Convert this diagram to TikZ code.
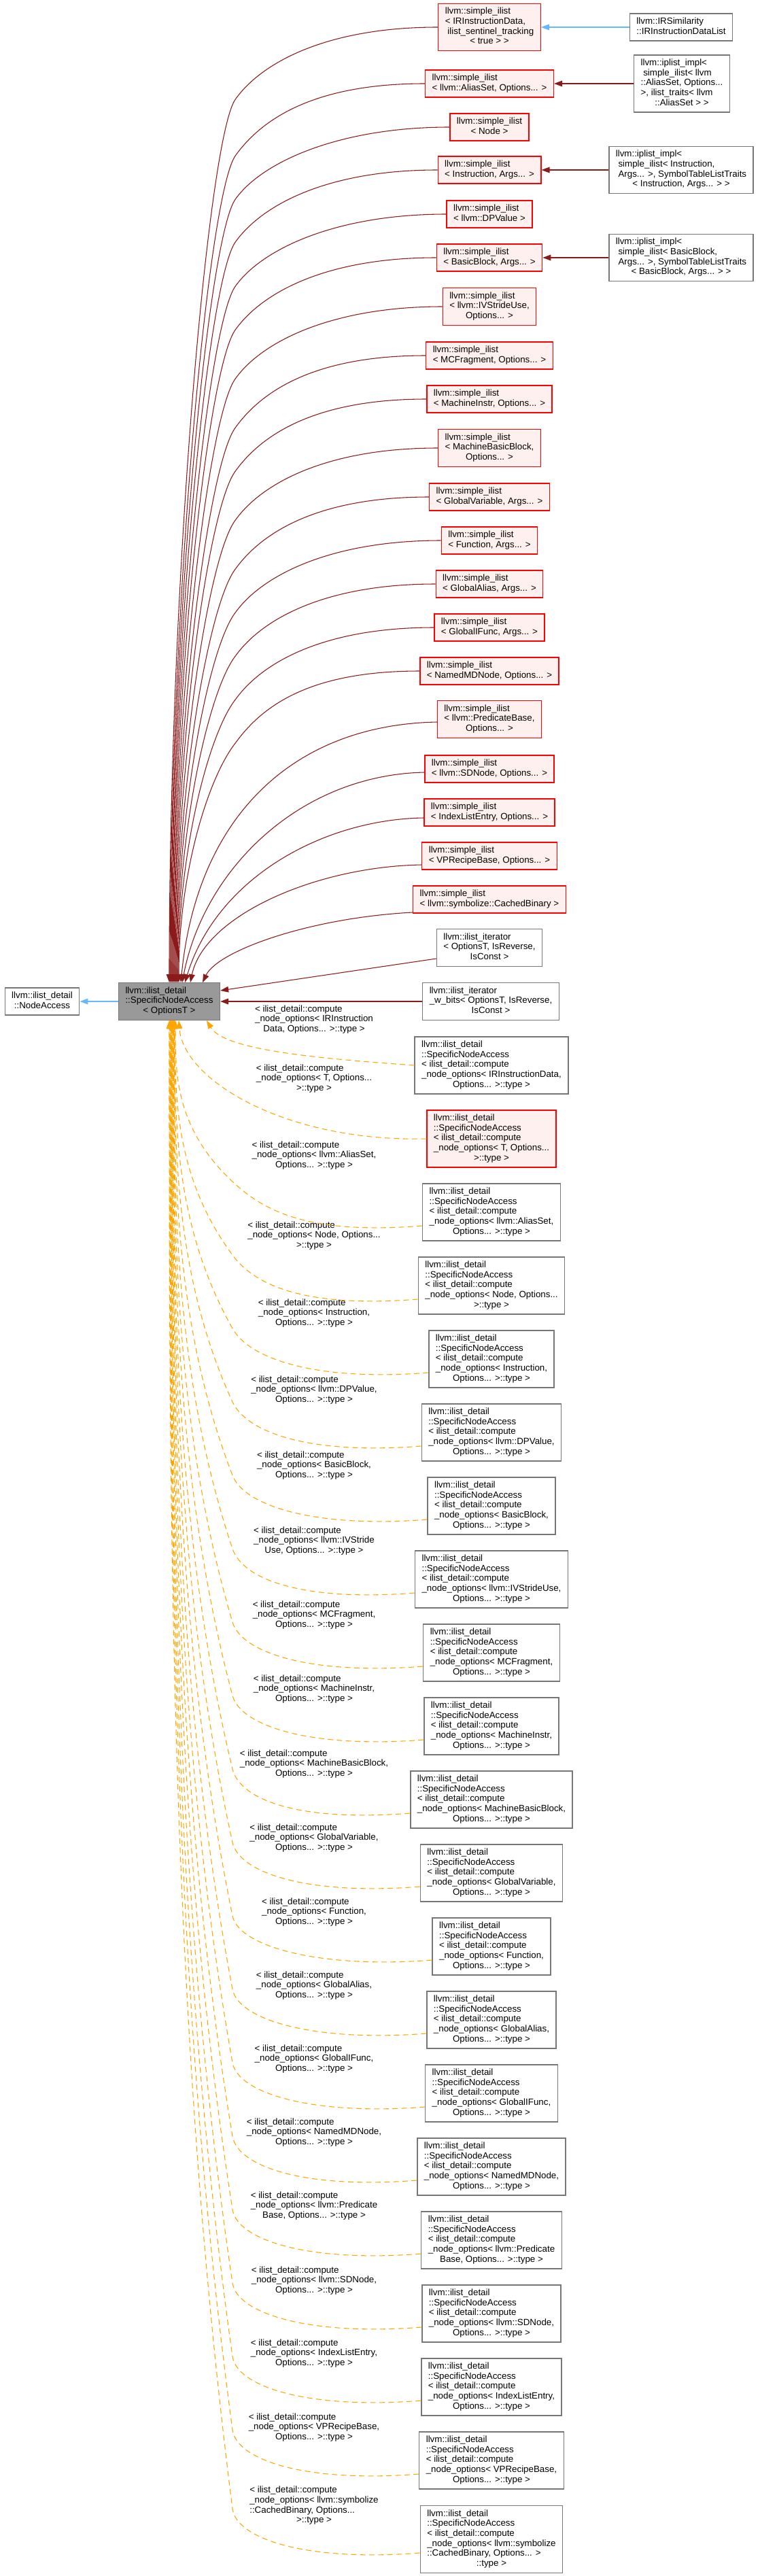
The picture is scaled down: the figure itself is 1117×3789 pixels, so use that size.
\documentclass[tikz,border=0pt]{standalone}
\usepackage{fontspec}
\setmainfont{Liberation Sans}
\usetikzlibrary{arrows.meta,calc}
\definecolor{edgered}{HTML}{8B1A1A}
\definecolor{edgeblue}{HTML}{63B8FF}
\definecolor{edgeorange}{HTML}{FFA500}
\definecolor{nodered}{HTML}{FF0000}
\definecolor{nodepink}{HTML}{FFF0F0}
\definecolor{nodegray}{HTML}{999999}
\definecolor{bordergray}{HTML}{777777}
\newcommand{\dxl}[2]{\begin{tabular}{@{}l@{}}#1\\\multicolumn{1}{@{}c@{}}{#2}\end{tabular}}
\newcommand{\sna}[2]{\dxl{llvm::ilist\_detail\\::SpecificNodeAccess\\< ilist\_detail::compute\\#1}{#2}}
\newcommand{\lab}[2]{\dxl{< ilist\_detail::compute\\#1}{#2}}
\newcommand{\topedge}[4]{\draw[redge] (#1.west) .. controls +(-160,0) and +(40,-55) .. (347,#2) .. controls +(-40,50) and +(0,-#3) .. ($(main.north)+(#4,0)$);}
\newcommand{\botedge}[6]{\draw[oedge] ($(#1.west)+(0,20)$) .. controls +(-165,13) and +(#2,45) .. (342,#3) .. controls +(#4,-#5) and +(0,#5) .. ($(main.south)+(#6,0)$);}
\tikzset{
  basebox/.style={rectangle, inner xsep=7.5pt, inner ysep=4pt, line width=1pt, font=\fontsize{10}{11}\selectfont},
  rednode/.style={basebox, draw=nodered, fill=nodepink},
  plainnode/.style={basebox, draw=bordergray, fill=white},
  mainnode/.style={basebox, draw=bordergray, fill=nodegray},
  lbl/.style={inner sep=0pt, font=\fontsize{10}{11}\selectfont},
  redge/.style={draw=edgered, line width=0.8pt, -{Triangle[length=9pt,width=6.5pt]}},
  bedge/.style={draw=edgeblue, line width=0.8pt, -{Triangle[length=9pt,width=6.5pt]}},
  oedge/.style={draw=edgeorange, line width=0.8pt, dash pattern=on 6pt off 4pt, -{Triangle[length=9pt,width=6.5pt]}}
}
\begin{document}
\begin{tikzpicture}[x=0.75pt,y=-0.75pt]
\fill[white] (0,0) rectangle (1117,3789);
\useasboundingbox (0,0) rectangle (1117,3789);
% main and base
\node[mainnode] (main) at (249,1473) {\dxl{llvm::ilist\_detail\\::SpecificNodeAccess}{< OptionsT >}};
\node[plainnode] (na) at (62,1473) {\dxl{llvm::ilist\_detail}{::NodeAccess}};
% simple_ilist nodes
\node[rednode] (r1) at (720,40) {\dxl{llvm::simple\_ilist\\< IRInstructionData,\\\ ilist\_sentinel\_tracking}{< true > >}};
\node[rednode] (r2) at (720,123) {\dxl{llvm::simple\_ilist}{< llvm::AliasSet, Options... >}};
\node[rednode] (r3) at (720,187) {\dxl{llvm::simple\_ilist}{< Node >}};
\node[rednode] (r4) at (720,250) {\dxl{llvm::simple\_ilist}{< Instruction, Args... >}};
\node[rednode] (r5) at (720,315) {\dxl{llvm::simple\_ilist}{< llvm::DPValue >}};
\node[rednode] (r6) at (720,379) {\dxl{llvm::simple\_ilist}{< BasicBlock, Args... >}};
\node[rednode] (r7) at (720,451) {\dxl{llvm::simple\_ilist\\< llvm::IVStrideUse,}{Options... >}};
\node[rednode] (r8) at (720,523) {\dxl{llvm::simple\_ilist}{< MCFragment, Options... >}};
\node[rednode] (r9) at (720,587) {\dxl{llvm::simple\_ilist}{< MachineInstr, Options... >}};
\node[rednode] (r10) at (720,659) {\dxl{llvm::simple\_ilist\\< MachineBasicBlock,}{Options... >}};
\node[rednode] (r11) at (720,731) {\dxl{llvm::simple\_ilist}{< GlobalVariable, Args... >}};
\node[rednode] (r12) at (720,795) {\dxl{llvm::simple\_ilist}{< Function, Args... >}};
\node[rednode] (r13) at (720,859) {\dxl{llvm::simple\_ilist}{< GlobalAlias, Args... >}};
\node[rednode] (r14) at (720,923) {\dxl{llvm::simple\_ilist}{< GlobalIFunc, Args... >}};
\node[rednode] (r15) at (720,987) {\dxl{llvm::simple\_ilist}{< NamedMDNode, Options... >}};
\node[rednode] (r16) at (720,1058) {\dxl{llvm::simple\_ilist\\< llvm::PredicateBase,}{Options... >}};
\node[rednode] (r17) at (720,1131) {\dxl{llvm::simple\_ilist}{< llvm::SDNode, Options... >}};
\node[rednode] (r18) at (720,1195) {\dxl{llvm::simple\_ilist}{< IndexListEntry, Options... >}};
\node[rednode] (r19) at (720,1259) {\dxl{llvm::simple\_ilist}{< VPRecipeBase, Options... >}};
\node[rednode] (r20) at (720,1323) {\dxl{llvm::simple\_ilist}{< llvm::symbolize::CachedBinary >}};
\node[plainnode] (g21) at (720,1394) {\dxl{llvm::ilist\_iterator\\< OptionsT, IsReverse,}{IsConst >}};
\node[plainnode] (g22) at (722,1473) {\dxl{llvm::ilist\_iterator\\\_w\_bits< OptionsT, IsReverse,}{IsConst >}};
% external derived nodes
\node[plainnode] (e1) at (1002,40) {\dxl{llvm::IRSimilarity}{::IRInstructionDataList}};
\node[plainnode] (e2) at (1003,123) {\dxl{llvm::iplist\_impl<\\\ simple\_ilist< llvm\\::AliasSet, Options...\\>, ilist\_traits< llvm}{::AliasSet > >}};
\node[plainnode] (e3) at (1002,250) {\dxl{llvm::iplist\_impl<\\\ simple\_ilist< Instruction,\\\ Args... >, SymbolTableListTraits}{< Instruction, Args... > >}};
\node[plainnode] (e4) at (1002,379) {\dxl{llvm::iplist\_impl<\\\ simple\_ilist< BasicBlock,\\\ Args... >, SymbolTableListTraits}{< BasicBlock, Args... > >}};
% SpecificNodeAccess instantiations
\node[plainnode] (sa) at (723,1567) {\sna{\_node\_options< IRInstructionData,}{Options... >::type >}};
\node[rednode] (sb) at (723,1675) {\sna{\_node\_options< T, Options...}{>::type >}};
\node[plainnode] (sc) at (723,1783) {\sna{\_node\_options< llvm::AliasSet,}{Options... >::type >}};
\node[plainnode] (sd) at (723,1891) {\sna{\_node\_options< Node, Options...}{>::type >}};
\node[plainnode] (se) at (723,1999) {\sna{\_node\_options< Instruction,}{Options... >::type >}};
\node[plainnode] (sf) at (723,2107) {\sna{\_node\_options< llvm::DPValue,}{Options... >::type >}};
\node[plainnode] (sg) at (723,2215) {\sna{\_node\_options< BasicBlock,}{Options... >::type >}};
\node[plainnode] (sh) at (723,2323) {\sna{\_node\_options< llvm::IVStrideUse,}{Options... >::type >}};
\node[plainnode] (si) at (723,2431) {\sna{\_node\_options< MCFragment,}{Options... >::type >}};
\node[plainnode] (sj) at (723,2539) {\sna{\_node\_options< MachineInstr,}{Options... >::type >}};
\node[plainnode] (sk) at (723,2647) {\sna{\_node\_options< MachineBasicBlock,}{Options... >::type >}};
\node[plainnode] (sl) at (723,2755) {\sna{\_node\_options< GlobalVariable,}{Options... >::type >}};
\node[plainnode] (sm) at (723,2863) {\sna{\_node\_options< Function,}{Options... >::type >}};
\node[plainnode] (sn) at (723,2971) {\sna{\_node\_options< GlobalAlias,}{Options... >::type >}};
\node[plainnode] (so) at (723,3079) {\sna{\_node\_options< GlobalIFunc,}{Options... >::type >}};
\node[plainnode] (sp) at (723,3187) {\sna{\_node\_options< NamedMDNode,}{Options... >::type >}};
\node[plainnode] (sq) at (723,3295) {\sna{\_node\_options< llvm::Predicate}{Base, Options... >::type >}};
\node[plainnode] (sr) at (723,3403) {\sna{\_node\_options< llvm::SDNode,}{Options... >::type >}};
\node[plainnode] (ss) at (723,3511) {\sna{\_node\_options< IndexListEntry,}{Options... >::type >}};
\node[plainnode] (st) at (723,3619) {\sna{\_node\_options< VPRecipeBase,}{Options... >::type >}};
\node[plainnode] (su) at (723,3735) {\dxl{llvm::ilist\_detail\\::SpecificNodeAccess\\< ilist\_detail::compute\\\_node\_options< llvm::symbolize\\::CachedBinary, Options... >}{::type >}};
% edge labels
\node[lbl] (la) at (462,1500) {\lab{\_node\_options< IRInstruction}{Data, Options... >::type >}};
\node[lbl] (lb) at (462,1587) {\lab{\_node\_options< T, Options...}{>::type >}};
\node[lbl] (lc) at (462,1700) {\lab{\_node\_options< llvm::AliasSet,}{Options... >::type >}};
\node[lbl] (ld) at (462,1818) {\lab{\_node\_options< Node, Options...}{>::type >}};
\node[lbl] (le) at (462,1932) {\lab{\_node\_options< Instruction,}{Options... >::type >}};
\node[lbl] (lf) at (462,2045) {\lab{\_node\_options< llvm::DPValue,}{Options... >::type >}};
\node[lbl] (lg) at (462,2156) {\lab{\_node\_options< BasicBlock,}{Options... >::type >}};
\node[lbl] (lh) at (462,2267) {\lab{\_node\_options< llvm::IVStride}{Use, Options... >::type >}};
\node[lbl] (li) at (462,2376) {\lab{\_node\_options< MCFragment,}{Options... >::type >}};
\node[lbl] (lj) at (462,2485) {\lab{\_node\_options< MachineInstr,}{Options... >::type >}};
\node[lbl] (lk) at (462,2595) {\lab{\_node\_options< MachineBasicBlock,}{Options... >::type >}};
\node[lbl] (ll) at (462,2704) {\lab{\_node\_options< GlobalVariable,}{Options... >::type >}};
\node[lbl] (lm) at (462,2813) {\lab{\_node\_options< Function,}{Options... >::type >}};
\node[lbl] (ln) at (462,2921) {\lab{\_node\_options< GlobalAlias,}{Options... >::type >}};
\node[lbl] (lo) at (462,3029) {\lab{\_node\_options< GlobalIFunc,}{Options... >::type >}};
\node[lbl] (lp) at (462,3137) {\lab{\_node\_options< NamedMDNode,}{Options... >::type >}};
\node[lbl] (lq) at (462,3245) {\lab{\_node\_options< llvm::Predicate}{Base, Options... >::type >}};
\node[lbl] (lr) at (462,3355) {\lab{\_node\_options< llvm::SDNode,}{Options... >::type >}};
\node[lbl] (ls) at (462,3462) {\lab{\_node\_options< IndexListEntry,}{Options... >::type >}};
\node[lbl] (lt) at (462,3571) {\lab{\_node\_options< VPRecipeBase,}{Options... >::type >}};
\node[lbl] (lu) at (462,3686) {\lab{\_node\_options< llvm::symbolize\\::CachedBinary, Options...}{>::type >}};
% blue edges
\draw[bedge] (main.west) -- (na.east);
\draw[bedge] (e1.west) -- (r1.east);
% iplist edges
\draw[redge] (e2.west) -- (r2.east);
\draw[redge] (e3.west) -- (r4.east);
\draw[redge] (e4.west) -- (r6.east);
% top edges into main
\topedge{r1}{145}{598}{0}
\topedge{r2}{228}{560}{1}
\topedge{r3}{292}{531}{2}
\topedge{r4}{355}{502}{3}
\topedge{r5}{420}{472}{4}
\topedge{r6}{484}{443}{5}
\topedge{r7}{556}{409}{6}
\topedge{r8}{628}{376}{7}
\topedge{r9}{692}{347}{8}
\topedge{r10}{764}{314}{9}
\topedge{r11}{836}{281}{10}
\topedge{r12}{900}{251}{11}
\topedge{r13}{964}{222}{12}
\topedge{r14}{1028}{192}{13}
\topedge{r15}{1092}{163}{14}
\draw[redge] ($(r16.west)+(0,4)$) .. controls +(-210,4) and +(24,-246) .. ($(main.north)+(17,0)$);
\draw[redge] ($(r17.west)+(0,5)$) .. controls +(-184,4) and +(32,-166) .. ($(main.north)+(19,0)$);
\draw[redge] ($(r18.west)+(0,8)$) .. controls +(-145,2) and +(48,-156) .. ($(main.north)+(23,0)$);
\draw[redge] ($(r19.west)+(0,13)$) .. controls +(-160,3) and +(20,-96) .. ($(main.north)+(31,0)$);
\draw[redge] ($(r20.west)+(0,19)$) .. controls +(-153,8) and +(22,-46) .. ($(main.north)+(49,0)$);
\draw[redge] ($(g21.west)+(0,16)$) -- ($(main.east)+(0,-16)$);
\draw[redge] (g22.west) -- (main.east);
% dashed template edges
\draw[oedge] (sa.west) .. controls +(-139,-10) and +(26,44) .. ($(main.south)+(55,0)$);
\draw[oedge] (sb.west) .. controls +(-205,5) and +(7,89) .. ($(main.south)+(14,0)$);
\botedge{sc}{48}{1738}{-84}{79}{9}
\botedge{sd}{33}{1846}{-84.5}{115}{8.5}
\botedge{se}{25}{1954}{-85}{151}{8}
\botedge{sf}{21}{2062}{-85.5}{187}{7.5}
\botedge{sg}{17}{2170}{-86}{223}{7}
\botedge{sh}{15}{2278}{-86.5}{259}{6.5}
\botedge{si}{13}{2386}{-87}{295}{6}
\botedge{sj}{12}{2494}{-87.5}{331}{5.5}
\botedge{sk}{11}{2602}{-88}{367}{5}
\botedge{sl}{10}{2710}{-88.5}{403}{4.5}
\botedge{sm}{9}{2818}{-89}{439}{4}
\botedge{sn}{8.5}{2926}{-89.5}{475}{3.5}
\botedge{so}{8}{3034}{-90}{511}{3}
\botedge{sp}{7.5}{3142}{-90.5}{547}{2.5}
\botedge{sq}{7}{3250}{-91}{583}{2}
\botedge{sr}{6.7}{3358}{-91.5}{619}{1.5}
\botedge{ss}{6.3}{3466}{-92}{655}{1}
\botedge{st}{6}{3574}{-92.5}{691}{0.5}
\botedge{su}{5.7}{3690}{-93}{730}{0}
\end{tikzpicture}
\end{document}
